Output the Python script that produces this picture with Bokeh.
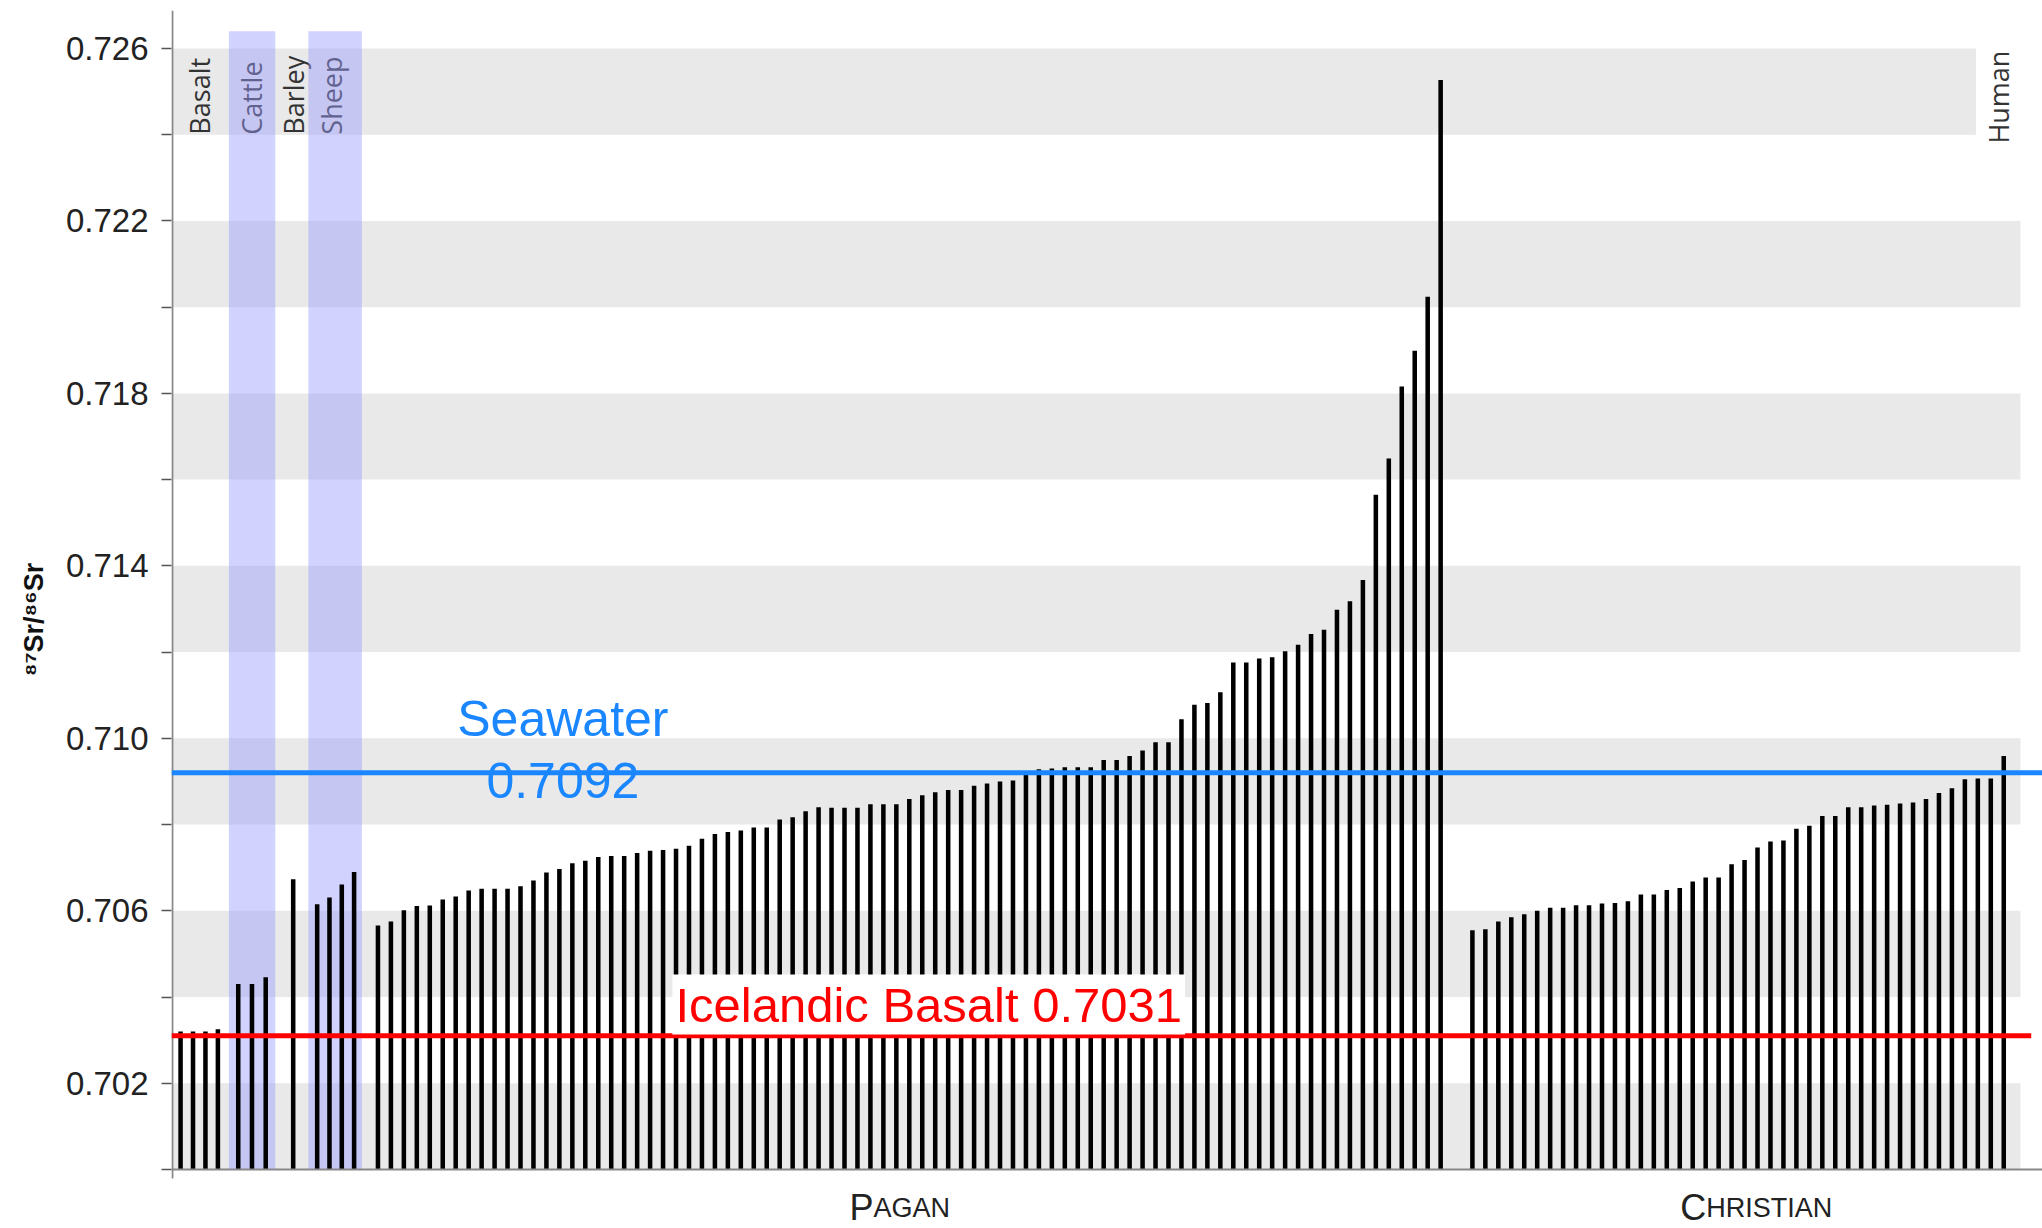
import numpy as np
from bokeh.plotting import figure
from bokeh.models import Range1d, FixedTicker, Label, PrintfTickFormatter
from bokeh.core.properties import value
from bokeh.embed import file_html
from bokeh.resources import INLINE

# ---------------- data (87Sr/86Sr) ----------------
basalt = [0.7032, 0.7032, 0.7032, 0.70325]
cattle = [0.7043, 0.7043, 0.70446]
barley = [0.70673]
sheep = [0.70615, 0.70631, 0.70661, 0.70690]

pagan = [0.70566, 0.70575, 0.70601, 0.70611, 0.70612, 0.70626, 0.70633, 0.70647,
         0.70651, 0.70651, 0.70651, 0.70657, 0.70670, 0.70689, 0.70697, 0.70710,
         0.70716, 0.70725, 0.70727, 0.70727, 0.70734, 0.70739, 0.70741, 0.70744,
         0.70751, 0.70767, 0.70778, 0.70783, 0.70786, 0.70793, 0.70793, 0.70812,
         0.70817, 0.70831, 0.70840, 0.70839, 0.70839, 0.70839, 0.70847, 0.70847,
         0.70847, 0.70859, 0.70868, 0.70875, 0.70880, 0.70880, 0.70890, 0.70895,
         0.70900, 0.70902, 0.70915, 0.70928, 0.70930, 0.70933, 0.70933, 0.70933,
         0.70950, 0.70950, 0.70959, 0.70972, 0.70991, 0.70991, 0.71044, 0.71078,
         0.71082, 0.71107, 0.71176, 0.71176, 0.71185, 0.71188, 0.71202, 0.71217,
         0.71242, 0.71252, 0.71298, 0.71318, 0.71367, 0.71565, 0.71649, 0.71816,
         0.71899, 0.72024, 0.72527]

christian = [0.70555, 0.70557, 0.70575, 0.70585, 0.70592, 0.70600, 0.70607, 0.70607,
             0.70613, 0.70613, 0.70617, 0.70618, 0.70622, 0.70638, 0.70638, 0.70648,
             0.70653, 0.70668, 0.70677, 0.70677, 0.70708, 0.70718, 0.70747, 0.70761,
             0.70763, 0.70790, 0.70797, 0.70820, 0.70820, 0.70840, 0.70840, 0.70844,
             0.70846, 0.70849, 0.70851, 0.70859, 0.70873, 0.70884, 0.70905, 0.70907,
             0.70907, 0.70959]

sample_labels = ["Basalt", "Cattle", "Barley", "Sheep"]
human_label = "Human"
period_labels = ["Pagan", "Christian"]

seawater = 0.7092
icelandic_basalt = 0.7031

y_major_ticks = [0.702, 0.706, 0.710, 0.714, 0.718, 0.722, 0.726]
y_minor_ticks = [0.700, 0.704, 0.708, 0.712, 0.716, 0.720, 0.724]
band_bottoms = [0.700, 0.704, 0.708, 0.712, 0.716, 0.720, 0.724]
band_height = 0.002

# ---------------- layout (slot units along x) ----------------
layout = {
    "Basalt": (0.70, 0.96),
    "Cattle": (5.15, 1.06),
    "Barley": (9.39, 1.0),
    "Sheep": (11.24, 0.95),
    "Pagan": (15.93, 1.0),
    "Christian": (100.38, 1.0),
}
series = {"Basalt": basalt, "Cattle": cattle, "Barley": barley, "Sheep": sheep,
          "Pagan": pagan, "Christian": christian}

pos = {}
for k, vals in series.items():
    start, step = layout[k]
    pos[k] = start + step * np.arange(len(vals))

PX_PER_UNIT = 43118.0          # vertical pixels per ratio unit
X_END = 144.37
AXIS_Y = 0.700
Y_START, Y_END = AXIS_Y - 59 / PX_PER_UNIT, 0.72688

p = figure(width=2042, height=1228,
           x_range=Range1d(0, X_END), y_range=Range1d(Y_START, Y_END),
           x_axis_location=None,
           output_backend="svg", toolbar_location=None,
           min_border_left=171, min_border_right=0, min_border_top=10,
           min_border_bottom=0)
p.outline_line_color = None
p.grid.visible = False
p.background_fill_color = "white"
p.border_fill_color = "white"

# grey bands
p.quad(left=0, right=142.67, bottom=band_bottoms,
       top=[b + band_height for b in band_bottoms],
       fill_color="#e9e9e9", line_color=None)

# sample-type labels (below the translucent shading)
label_x = [float(np.mean(pos[k])) - (0.3 if k == "Sheep" else 0.0) for k in sample_labels]
p.text(x=label_x, y=[0.7240] * 4, text=sample_labels, angle=np.pi / 2,
       text_align="left", text_baseline="middle",
       text_font=value("Open Sans"), text_font_size="27px", text_color="#333333")

# lavender shading for Cattle and Sheep
p.quad(left=[pos["Cattle"][0] - 0.72, pos["Sheep"][0] - 0.68],
       right=[pos["Cattle"][-1] + 0.74, pos["Sheep"][-1] + 0.6],
       bottom=AXIS_Y, top=0.7264,
       fill_color="#9c9cff", fill_alpha=0.45, line_color=None)

# bars
all_x = np.concatenate([pos[k] for k in series])
all_v = np.concatenate([series[k] for k in series])
p.vbar(x=all_x, top=all_v, bottom=AXIS_Y, width=0.35,
       fill_color="black", line_color=None)

# axis lines (drawn as glyphs so the x-axis sits at 0.700)
p.segment(x0=0, x1=X_END, y0=AXIS_Y, y1=AXIS_Y, line_color="#888888", line_width=2)
p.segment(x0=0.07, x1=0.07, y0=AXIS_Y - 9 / PX_PER_UNIT, y1=Y_END,
          line_color="#888888", line_width=2)

# reference lines
p.segment(x0=0, x1=X_END, y0=seawater, y1=seawater,
          line_color="#1a86ff", line_width=5)
p.segment(x0=0, x1=143.5, y0=icelandic_basalt, y1=icelandic_basalt,
          line_color="#ff0000", line_width=5)

p.add_layout(Label(x=30.2, y=0.71109, text=f"Seawater\n{seawater}",
                   text_align="center", text_baseline="top",
                   text_line_height=1.1,
                   text_font="Liberation Sans", text_font_size="50px",
                   text_color="#1a86ff"))
p.add_layout(Label(x=38.65, y=0.70313, text=f"Icelandic Basalt {icelandic_basalt}",
                   text_align="left", text_baseline="bottom",
                   text_font="Liberation Sans", text_font_size="49px",
                   text_color="#ff0000", background_fill_color="white",
                   padding=3))
p.add_layout(Label(x=140.97, y=0.7237, text=human_label, angle=np.pi / 2,
                   text_align="left", text_baseline="middle",
                   text_font="Open Sans", text_font_size="27px",
                   text_color="#333333", background_fill_color="white",
                   padding=4))

# small-caps period labels
period_split = {"Pagan": 54.17, "Christian": 118.43}
y_period = AXIS_Y - 38 / PX_PER_UNIT
for name in period_labels:
    up = name.upper()
    p.add_layout(Label(x=period_split[name], y=y_period, text=up[0],
                       text_align="right", text_baseline="alphabetic",
                       text_font="Liberation Sans", text_font_size="36px",
                       text_color="#222222"))
    p.add_layout(Label(x=period_split[name], y=y_period, text=up[1:],
                       text_align="left", text_baseline="alphabetic",
                       text_font="Liberation Sans", text_font_size="27px",
                       text_color="#222222"))

# y axis
ya = p.yaxis[0]
ya.ticker = FixedTicker(ticks=y_major_ticks, minor_ticks=y_minor_ticks)
ya.formatter = PrintfTickFormatter(format="%.3f")
ya.major_label_text_font = "Liberation Sans"
ya.major_label_text_font_size = "33px"
ya.major_label_text_color = "#222222"
ya.major_label_standoff = 13
ya.major_tick_out = 10
ya.major_tick_in = 0
ya.minor_tick_out = 10
ya.minor_tick_in = 0
ya.major_tick_line_color = "#555555"
ya.minor_tick_line_color = "#555555"
ya.major_tick_line_width = 1.5
ya.minor_tick_line_width = 1.5
ya.axis_line_color = None
ya.axis_label = "\u2078\u2077Sr/\u2078\u2076Sr"
ya.axis_label_text_font = "Liberation Sans"
ya.axis_label_text_font_style = "bold"
ya.axis_label_text_font_size = "27px"
ya.axis_label_text_color = "#111111"
ya.axis_label_standoff = 14

open("out.html", "w").write(file_html(p, INLINE))
